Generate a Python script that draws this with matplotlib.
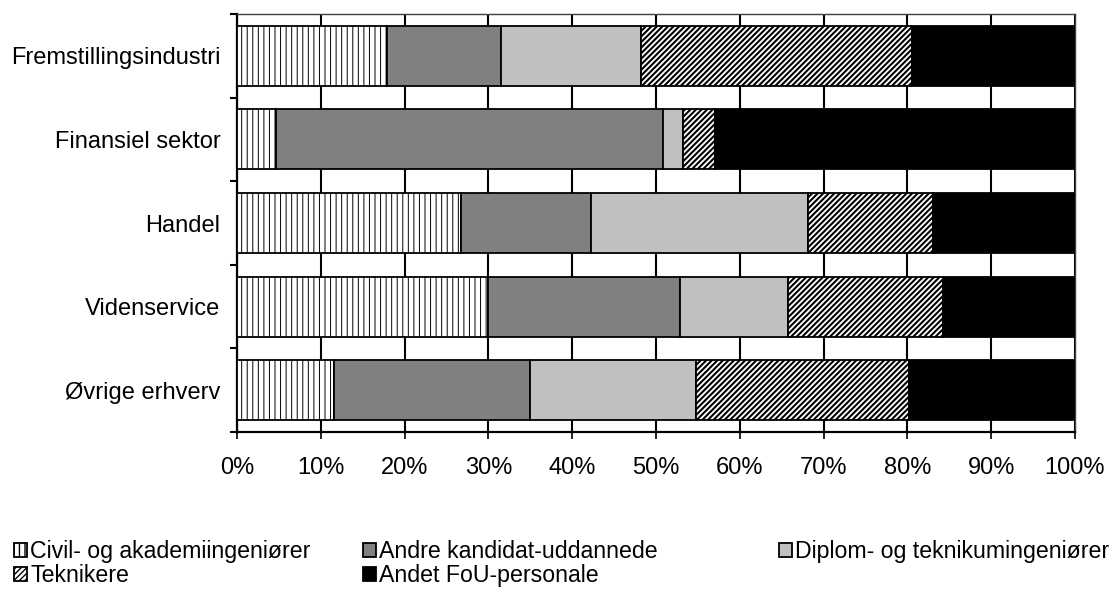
import matplotlib
matplotlib.use("Agg")
import matplotlib.pyplot as plt
from matplotlib.patches import Patch
import numpy as np

plt.rcParams['font.family'] = ['Liberation Sans', 'DejaVu Sans']

# data (shares in %)
categories = ['Fremstillingsindustri', 'Finansiel sektor', 'Handel', 'Videnservice', 'Øvrige erhverv']
civil = [17.9, 4.7, 26.7, 30.0, 11.6]
andre = [13.6, 46.1, 15.6, 22.9, 23.4]
diplom = [16.7, 2.4, 25.8, 12.9, 19.8]
teknikere = [32.3, 3.9, 14.9, 18.5, 25.4]
andet = [19.5, 42.9, 17.0, 15.7, 19.8]

series_names = ['Civil- og akademiingeniører', 'Andre kandidat-uddannede',
                'Diplom- og teknikumingeniører', 'Teknikere', 'Andet FoU-personale']
series = [civil, andre, diplom, teknikere, andet]
face = ['white', '#808080', '#c0c0c0', 'white', 'black']
hatches = ['|||', None, None, '//////', None]
hatch_lw = [0.7, 1, 1, 1.5, 1]

fig = plt.figure(figsize=(11.14, 5.99), dpi=100)
ax = fig.add_axes([237/1114, 1-432/599, (1075-237)/1114, (432-14)/599])

y = np.arange(len(categories))
left = np.zeros(len(categories))
handles = []
for vals, name, fc, h, hl in zip(series, series_names, face, hatches, hatch_lw):
    bars = ax.barh(y, vals, left=left, height=0.72, color=fc, edgecolor='black',
                   linewidth=1.3, hatch=h, zorder=3)
    for b in bars:
        if hasattr(b, 'set_hatch_linewidth'):
            b.set_hatch_linewidth(hl)
    left += np.array(vals)
    p = Patch(facecolor=fc, edgecolor='black', hatch=h, linewidth=1.3, label=name)
    if hasattr(p, 'set_hatch_linewidth'):
        p.set_hatch_linewidth(hl)
    handles.append(p)

ax.set_xlim(0, 100)
ax.set_ylim(len(categories) - 0.5, -0.5)
ax.set_xticks(np.arange(0, 101, 10))
ax.set_xticklabels([f'{v}%' for v in range(0, 101, 10)])
ax.set_yticks(y)
ax.set_yticklabels(categories)
ax.set_yticks(np.arange(-0.5, len(categories)), minor=True)
ax.tick_params(axis='y', which='major', length=0, pad=12, labelsize=17)
ax.tick_params(axis='y', which='minor', length=5, width=1.5, direction='out')
ax.tick_params(axis='x', length=5, width=1.2, pad=13, labelsize=17)
ax.grid(axis='x', color='black', linewidth=1.5, zorder=0)
ax.set_axisbelow(True)
for s in ['left', 'bottom']:
    ax.spines[s].set_linewidth(1.6)
for s in ['top', 'right']:
    ax.spines[s].set_linewidth(1.0)
    ax.spines[s].set_color('#404040')

# legend: three columns placed like the original
columns = [[0, 3], [1, 4], [2]]
col_x = [14, 363, 779]
for idx, cx in zip(columns, col_x):
    leg = fig.legend([handles[i] for i in idx], [series_names[i] for i in idx],
                     loc='upper left', bbox_to_anchor=(cx/1114, 1-540/599),
                     frameon=False, fontsize=16.7, handlelength=0.55, handleheight=0.55,
                     handletextpad=0.15, labelspacing=0.05,
                     borderaxespad=0, borderpad=0)

fig.savefig('out.png', dpi=100)
